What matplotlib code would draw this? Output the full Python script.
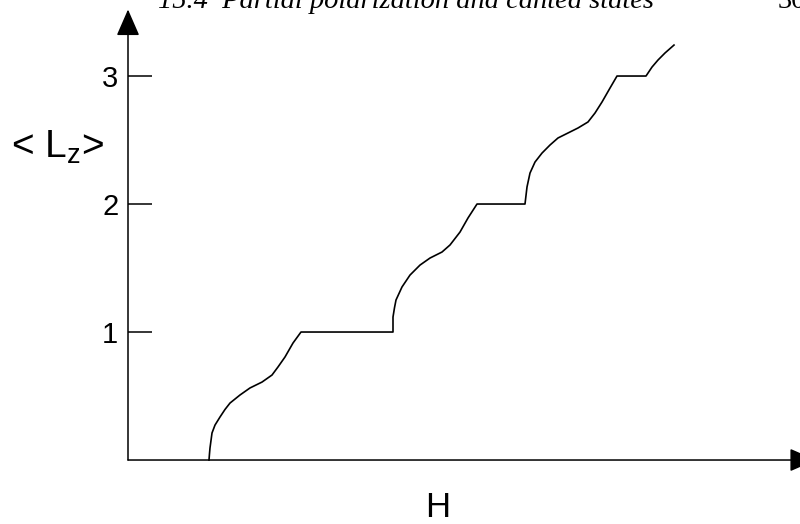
import matplotlib
matplotlib.use('Agg')
import matplotlib.pyplot as plt

plt.rcParams['font.family'] = ['Liberation Sans', 'DejaVu Sans']
plt.rcParams['mathtext.default'] = 'regular'

# magnetization curve <Lz>(H)
field = [0.81, 0.815, 0.82, 0.84, 0.87, 0.92, 0.97, 1.02, 1.12, 1.22, 1.34, 1.44, 1.50, 1.57, 1.65, 1.73,
         2.65, 2.65, 2.665, 2.68, 2.74, 2.82, 2.92, 3.02, 3.14, 3.22, 3.32, 3.40, 3.49,
         3.97, 3.99, 4.02, 4.07, 4.14, 4.22, 4.30, 4.40, 4.50, 4.60, 4.67, 4.74, 4.82, 4.89,
         5.18, 5.24, 5.30, 5.37, 5.46]
lz = [0.000, 0.05, 0.094, 0.211, 0.273, 0.336, 0.395, 0.445, 0.508, 0.563, 0.609, 0.664, 0.727, 0.805, 0.914, 1.0,
      1.0, 1.117, 1.19, 1.250, 1.352, 1.445, 1.523, 1.578, 1.625, 1.680, 1.781, 1.891, 2.0,
      2.0, 2.133, 2.242, 2.328, 2.398, 2.461, 2.516, 2.555, 2.594, 2.641, 2.711, 2.797, 2.906, 3.0,
      3.0, 3.070, 3.125, 3.180, 3.242]
yticks = [1, 2, 3]

fig = plt.figure(figsize=(8, 5.24), dpi=100)
ax = fig.add_axes([0.16, 0.1221, 0.84, 0.8779])
ax.set_xlim(0, 6.72)
ax.set_ylim(0, 3.594)
for s in ax.spines.values():
    s.set_visible(False)

ax.plot(field, lz, color='black', lw=1.2, clip_on=False, solid_joinstyle='round')

# axes with arrow heads
arrow = dict(arrowstyle='-|>,head_length=1.65,head_width=0.72', mutation_scale=10,
             color='black', lw=1.1, shrinkA=0, shrinkB=0)
ax.annotate('', xy=(0, 3.52), xytext=(0, 0), arrowprops=arrow, annotation_clip=False)
ax.annotate('', xy=(6.88, 0), xytext=(0, 0), arrowprops=arrow, annotation_clip=False)

ax.set_xticks([])
ax.set_yticks(yticks)
ax.set_yticklabels([str(t) for t in yticks])
ax.tick_params(axis='y', direction='in', length=17, width=1.1, labelsize=21, pad=7)

ax.text(-0.705, 2.36, '< L$_z$>', fontsize=28, ha='center', va='baseline', clip_on=False)
ax.text(3.10, -0.445, 'H', fontsize=25, ha='center', va='baseline', clip_on=False)

# running header of the page, cut off at the top
ax.text(0.30, 3.53, '15.4  Partial polarization and canted states', fontsize=20.5,
        family='Liberation Serif', style='italic', ha='left', va='baseline', clip_on=False)
ax.text(6.50, 3.53, '30', fontsize=20.5, family='Liberation Serif', ha='left',
        va='baseline', clip_on=False)

fig.savefig('out.png', dpi=100)
